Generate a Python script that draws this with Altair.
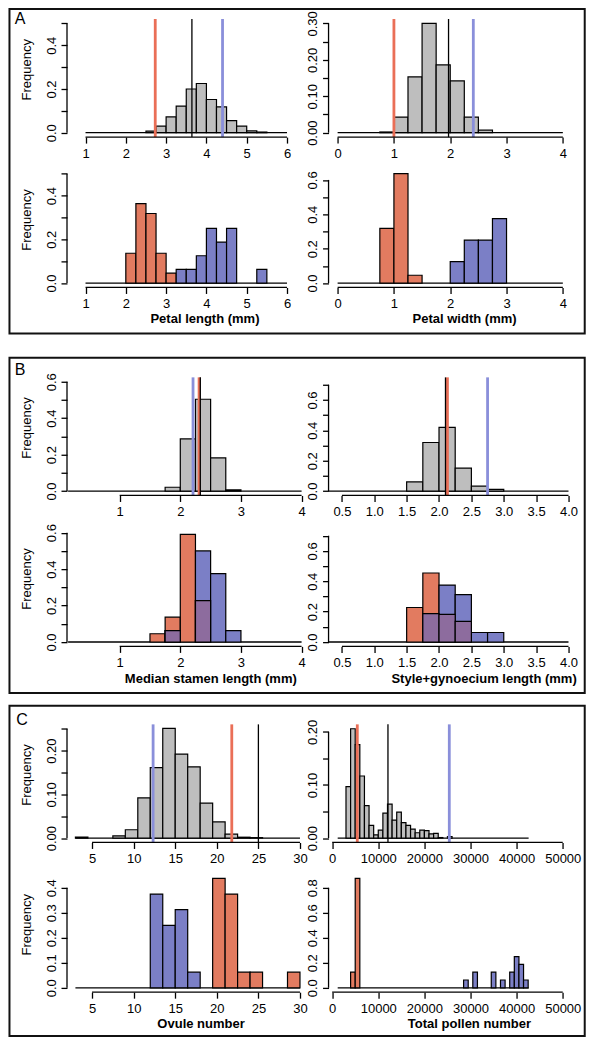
import altair as alt
import pandas as pd

# ===================== values =====================
# ---- Panel A ----
pl_all_edges = [2.5, 2.75, 3.0, 3.25, 3.5, 3.75, 4.0, 4.25, 4.5, 4.75, 5.0, 5.25, 5.5]
pl_all_freq = [0.007, 0.030, 0.072, 0.122, 0.200, 0.225, 0.152, 0.118, 0.055, 0.030, 0.008, 0.003]
pl_lines = [2.73, 3.64, 4.40]          # red, black, blue
pw_all_edges = [0.75, 1.0, 1.25, 1.5, 1.75, 2.0, 2.25, 2.5, 2.75]
pw_all_freq = [0.002, 0.043, 0.153, 0.300, 0.186, 0.142, 0.043, 0.007]
pw_lines = [1.00, 1.97, 2.41]
pl_red_edges = [2.0, 2.25, 2.5, 2.75, 3.0, 3.25]
pl_red_counts = [3, 8, 7, 3, 1]
pl_blue_edges = [3.25, 3.5, 3.75, 4.0, 4.25, 4.5, 4.75, 5.0, 5.25, 5.5]
pl_blue_counts = [1, 1, 2, 4, 3, 4, 0, 0, 1]
pw_red_edges = [0.75, 1.0, 1.25, 1.5]
pw_red_counts = [7, 14, 1]
pw_blue_edges = [2.0, 2.25, 2.5, 2.75, 3.0]
pw_blue_counts = [2, 4, 4, 6]
# ---- Panel B ----
st_all_edges = [1.75, 2.0, 2.25, 2.5, 2.75, 3.0]
st_all_freq = [0.021, 0.286, 0.504, 0.182, 0.007]
st_lines = [2.31, 2.33, 2.21]
sg_all_edges = [1.5, 1.75, 2.0, 2.25, 2.5, 2.75, 3.0]
sg_all_freq = [0.060, 0.320, 0.420, 0.151, 0.032, 0.011]
sg_lines = [2.13, 2.10, 2.75]
st_red_edges = [1.5, 1.75, 2.0, 2.25, 2.5]
st_red_counts = [1, 3, 13, 5]
st_blue_edges = [1.75, 2.0, 2.25, 2.5, 2.75, 3.0]
st_blue_counts = [1, 0, 8, 6, 1]
sg_red_edges = [1.5, 1.75, 2.0, 2.25, 2.5]
sg_red_counts = [5, 10, 4, 3]
sg_blue_edges = [1.75, 2.0, 2.25, 2.5, 2.75, 3.0]
sg_blue_counts = [3, 6, 5, 1, 1]
# ---- Panel C ----
ov_all_edges = [3, 4.5, 6, 7.5, 9, 10.5, 12, 13.5, 15, 16.5, 18, 19.5, 21, 22.5, 24, 25.5]
ov_all_freq = [0.002, 0.0, 0.0, 0.005, 0.019, 0.092, 0.161, 0.251, 0.192, 0.163, 0.080, 0.037, 0.009, 0.002, 0.001]
ov_lines = [21.8, 25.0, 12.34]
po_all_edges = [3000, 4000, 5000, 6000, 7000, 8000, 9000, 10000, 11000, 12000, 13000, 14000,
                15000, 16000, 17000, 18000, 19000, 20000, 21000, 22000, 23000, 24000, 25000, 26000]
po_all_freq = [0.097, 0.206, 0.176, 0.117, 0.061, 0.024, 0.006, 0.015, 0.047, 0.064, 0.034, 0.049,
               0.029, 0.024, 0.017, 0.010, 0.015, 0.014, 0.008, 0.009, 0.001, 0.0, 0.003]
po_lines = [5450, 12100, 25400]
ov_red_edges = [19.5, 21, 22.5, 24, 25.5, 27, 28.5, 30]
ov_red_counts = [7, 6, 1, 1, 0, 0, 1]
ov_blue_edges = [12, 13.5, 15, 16.5, 18]
ov_blue_counts = [6, 4, 5, 1]
po_red_edges = [4000, 5000, 6000]
po_red_counts = [2, 14]
po_blue_edges = [28500, 29500, 30500, 31500, 32500, 33500, 34500, 35500, 36500, 37500,
                 38500, 39500, 40500, 41500, 42500]
po_blue_counts = [1, 0, 2, 0, 0, 0, 2, 0, 1, 0, 2, 4, 3, 1]

# tick values / labels
ticks_1_6 = [1, 2, 3, 4, 5, 6]
ticks_0_4 = [0, 1, 2, 3, 4]
ticks_1_4 = [1, 2, 3, 4]
ticks_05_4 = [0.5, 1.0, 1.5, 2.0, 2.5, 3.0, 3.5, 4.0]
ticks_5_30 = [5, 10, 15, 20, 25, 30]
ticks_pollen = [0, 10000, 20000, 30000, 40000, 50000]
y_05 = [0.0, 0.1, 0.2, 0.3, 0.4, 0.5]
y_05_lab = ["0.0", "", "0.2", "", "0.4", ""]
y_030 = [0.0, 0.05, 0.10, 0.15, 0.20, 0.25, 0.30]
y_030_lab = ["0.00", "", "0.10", "", "0.20", "", "0.30"]
y_06 = [0.0, 0.1, 0.2, 0.3, 0.4, 0.5, 0.6]
y_06_lab = ["0.0", "", "0.2", "", "0.4", "", "0.6"]
y_07 = [0.0, 0.1, 0.2, 0.3, 0.4, 0.5, 0.6, 0.7]
y_07_lab = ["0.0", "", "0.2", "", "0.4", "", "0.6", ""]
y_025 = [0.0, 0.05, 0.10, 0.15, 0.20, 0.25]
y_025_lab = ["0.00", "", "0.10", "", "0.20", ""]
y_020 = [0.0, 0.05, 0.10, 0.15, 0.20]
y_020_lab = ["0.00", "", "0.10", "", "0.20"]
y_04 = [0.0, 0.1, 0.2, 0.3, 0.4]
y_04_lab = ["0.0", "0.1", "0.2", "0.3", "0.4"]
y_08 = [0.0, 0.2, 0.4, 0.6, 0.8]
y_08_lab = ["0.0", "0.2", "0.4", "0.6", "0.8"]

# ===================== style / layout =====================
FONT = "Liberation Sans"
GREY, RED, BLUE, PURPLE = "#BEBEBE", "#E27B60", "#7B7FC6", "#8D6C9E"
RED_LINE, BLUE_LINE = "#EA6F57", "#8A8FDA"
SX, SY = 0.975, 0.98
PLOT_W = 250.0
COL_L = [61.0, 329.0]
H_USR = 120.5
ROW_BOTTOM = [132.7, 285.2, 496.5, 650.2, 849.5, 1002.2]
ROW_GAP = 31.0
ROW_TOP = [12.2] + [b + ROW_GAP for b in ROW_BOTTOM[:-1]]


def label_expr(ticks, labels):
    step = min(abs(b - a) for a, b in zip(ticks, ticks[1:]))
    tol = step / 1000.0
    expr = "''"
    for t, l in reversed(list(zip(ticks, labels))):
        expr = f"abs(datum.value - ({t})) < {tol} ? '{l}' : {expr}"
    return expr


def bar_rows(edges, freqs, color):
    return [{"x": a, "x2": b, "y": 0.0, "y2": f, "c": color}
            for a, b, f in zip(edges[:-1], edges[1:], freqs) if f > 0]


def overlap_rows(re, rf, be, bf):
    blue = {round(a, 6): f for a, f in zip(be[:-1], bf)}
    rows = []
    for a, b, f in zip(re[:-1], re[1:], rf):
        g = blue.get(round(a, 6), 0)
        if f > 0 and g > 0:
            rows.append({"x": a, "x2": b, "y": 0.0, "y2": min(f, g), "c": PURPLE})
    return rows


def cell(row, col, bars, lines, ymax, xref, baseline, xticks, xlabels, yticks, ylabels,
         xtitle=None, ytitle=False, border=None, letter=None):
    L = COL_L[col]
    v0, p0, ppu = xref
    xdom = [v0 + (L - p0) / ppu, v0 + (L + PLOT_W - p0) / ppu]
    vh = (ROW_BOTTOM[row] - ROW_TOP[row]) * SY
    ppu_y = H_USR * SY / (1.08 * ymax)
    ybot = -0.04 * ymax
    ydom = [ybot, ybot + vh / ppu_y]
    ytop = 1.04 * ymax
    top_off = (ROW_BOTTOM[row] - H_USR - ROW_TOP[row]) * SY

    xa = dict(values=xticks, labelExpr=label_expr(xticks, xlabels), domain=False, grid=False,
              ticks=True, tickSize=6, tickWidth=1.3, tickColor="black",
              labelFont=FONT, labelFontSize=13, labelColor="black", labelPadding=4,
              labelFlush=False, labelOverlap=False, labelBound=False, title="")
    if xtitle:
        text, cx, cy = xtitle
        xa.update(title=text, titleFont=FONT, titleFontSize=13, titleFontWeight="bold",
                  titleColor="black", titleX=(cx - L) * SX, titleY=(cy - ROW_BOTTOM[row]) * SY,
                  titleAlign="center", titleBaseline="middle")
    ya = dict(values=yticks, labelExpr=label_expr(yticks, ylabels), domain=False, grid=False,
              ticks=True, tickSize=6, tickWidth=1.3, tickColor="black",
              labelFont=FONT, labelFontSize=13, labelColor="black", labelPadding=3,
              labelAngle=270, labelAlign="center", labelBaseline="bottom",
              labelFlush=False, labelOverlap=False, labelBound=False, title="")
    if ytitle:
        ya.update(title="Frequency", titleFont=FONT, titleFontSize=13, titleFontWeight="normal",
                  titleColor="black", titleAngle=270, titleX=-42 * SX,
                  titleY=top_off + (H_USR / 2 - 9) * SY, titleAlign="center", titleBaseline="middle")

    xs = alt.Scale(domain=xdom, nice=False, zero=False)
    ys = alt.Scale(domain=ydom, nice=False, zero=False)

    def X():
        return alt.X("x:Q", scale=xs, axis=alt.Axis(**xa))

    def Y():
        return alt.Y("y:Q", scale=ys, axis=alt.Axis(**ya))

    layers = []
    base = pd.DataFrame({"x": [baseline[0]], "x2": [baseline[1]], "y": [0.0]})
    layers.append(alt.Chart(base).mark_rule(color="black", strokeWidth=1.3)
                  .encode(x=X(), x2="x2:Q", y=Y()))
    layers.append(alt.Chart(pd.DataFrame(bars)).mark_rect(stroke="black", strokeWidth=1.2)
                  .encode(x=X(), x2="x2:Q", y=Y(), y2="y2:Q", fill=alt.Fill("c:N", scale=None)))
    if lines:
        r, k, b = lines
        vl = pd.DataFrame({"x": [r, b, k], "y": [ybot] * 3, "y2": [ytop] * 3,
                           "c": [RED_LINE, BLUE_LINE, "black"], "w": [2.8, 2.8, 1.3]})
        layers.append(alt.Chart(vl).mark_rule()
                      .encode(x=X(), y=Y(), y2="y2:Q", color=alt.Color("c:N", scale=None),
                              strokeWidth=alt.StrokeWidth("w:Q", scale=None)))
    ax = pd.DataFrame({"x": [xticks[0], xdom[0]], "x2": [xticks[-1], xdom[0]],
                       "y": [ybot, yticks[0]], "y2": [ybot, yticks[-1]]})
    layers.append(alt.Chart(ax).mark_rule(color="black", strokeWidth=1.3)
                  .encode(x=X(), x2="x2:Q", y=Y(), y2="y2:Q"))
    one = pd.DataFrame({"d": [0]})
    if border:
        y0, y1 = border
        layers.append(alt.Chart(one).mark_rect(fillOpacity=0, stroke="#111111", strokeWidth=2)
                      .encode(x=alt.value((2 - L) * SX), x2=alt.value((592 - L) * SX),
                              y=alt.value((y0 - ROW_TOP[row]) * SY), y2=alt.value((y1 - ROW_TOP[row]) * SY)))
    if letter:
        t, lx, ly = letter
        layers.append(alt.Chart(one).mark_text(text=t, font=FONT, fontSize=16, color="black",
                                               align="center", baseline="middle")
                      .encode(x=alt.value((lx - L) * SX), y=alt.value((ly - ROW_TOP[row]) * SY)))
    return alt.layer(*layers).properties(width=PLOT_W * SX, height=vh)


def freqs(counts, n):
    return [c / n for c in counts]


def lab(ticks, fmt):
    return [format(t, fmt) for t in ticks]


XA_L = (1, 80.0, 41.33)
XA_R = (0, 338.3, 57.75)
XB_L = (1, 115.0, 62.2)
XB_R = (0.5, 342.7, 66.4)
XC_L = (5, 86.7, 8.53)
XC_R = (0, 332.7, 0.00473)

cells = [
    cell(0, 0, bar_rows(pl_all_edges, pl_all_freq, GREY), pl_lines, 0.5, XA_L, (1, 6),
         ticks_1_6, lab(ticks_1_6, "d"), y_05, y_05_lab, ytitle=True,
         border=(2, 333), letter=("A", 13, 12)),
    cell(0, 1, bar_rows(pw_all_edges, pw_all_freq, GREY), pw_lines, 0.3, XA_R, (0, 4),
         ticks_0_4, lab(ticks_0_4, "d"), y_030, y_030_lab),
    cell(1, 0, bar_rows(pl_red_edges, freqs(pl_red_counts, 22), RED)
         + bar_rows(pl_blue_edges, freqs(pl_blue_counts, 16), BLUE), None, 0.5, XA_L, (1, 6),
         ticks_1_6, lab(ticks_1_6, "d"), y_05, y_05_lab, ytitle=True,
         xtitle=("Petal length (mm)", 202, 316.7)),
    cell(1, 1, bar_rows(pw_red_edges, freqs(pw_red_counts, 22), RED)
         + bar_rows(pw_blue_edges, freqs(pw_blue_counts, 16), BLUE), None, 0.636, XA_R, (0, 4),
         ticks_0_4, lab(ticks_0_4, "d"), y_06, y_06_lab,
         xtitle=("Petal width (mm)", 468, 316.7)),
    cell(2, 0, bar_rows(st_all_edges, st_all_freq, GREY), st_lines, 0.6, XB_L, (0.15, 4),
         ticks_1_4, lab(ticks_1_4, "d"), y_06, y_06_lab, ytitle=True,
         border=(356, 698), letter=("B", 13, 368)),
    cell(2, 1, bar_rows(sg_all_edges, sg_all_freq, GREY), sg_lines, 0.72, XB_R, (0.3, 4),
         ticks_05_4, lab(ticks_05_4, ".1f"), y_07, y_07_lab),
    cell(3, 0, bar_rows(st_red_edges, freqs(st_red_counts, 22), RED)
         + bar_rows(st_blue_edges, freqs(st_blue_counts, 16), BLUE)
         + overlap_rows(st_red_edges, freqs(st_red_counts, 22), st_blue_edges, freqs(st_blue_counts, 16)),
         None, 0.6, XB_L, (0.15, 4), ticks_1_4, lab(ticks_1_4, "d"), y_06, y_06_lab, ytitle=True,
         xtitle=("Median stamen length (mm)", 208, 683)),
    cell(3, 1, bar_rows(sg_red_edges, freqs(sg_red_counts, 22), RED)
         + bar_rows(sg_blue_edges, freqs(sg_blue_counts, 16), BLUE)
         + overlap_rows(sg_red_edges, freqs(sg_red_counts, 22), sg_blue_edges, freqs(sg_blue_counts, 16)),
         None, 0.72, XB_R, (0.3, 4), ticks_05_4, lab(ticks_05_4, ".1f"), y_07, y_07_lab,
         xtitle=("Style+gynoecium length (mm)", 488, 683)),
    cell(4, 0, bar_rows(ov_all_edges, ov_all_freq, GREY), ov_lines, 0.25, XC_L, (3, 30),
         ticks_5_30, lab(ticks_5_30, "d"), y_025, y_025_lab, ytitle=True,
         border=(710, 1047), letter=("C", 15, 725)),
    cell(4, 1, bar_rows(po_all_edges, po_all_freq, GREY), po_lines, 0.206, XC_R, (1200, 42600),
         ticks_pollen, lab(ticks_pollen, "d"), y_020, y_020_lab),
    cell(5, 0, bar_rows(ov_blue_edges, freqs(ov_blue_counts, 16), BLUE)
         + bar_rows(ov_red_edges, freqs(ov_red_counts, 16), RED), None, 0.4375, XC_L, (3, 30),
         ticks_5_30, lab(ticks_5_30, "d"), y_04, y_04_lab, ytitle=True,
         xtitle=("Ovule number", 198, 1034)),
    cell(5, 1, bar_rows(po_red_edges, freqs(po_red_counts, 16), RED)
         + bar_rows(po_blue_edges, freqs(po_blue_counts, 16), BLUE), None, 0.875, XC_R, (1200, 42600),
         ticks_pollen, lab(ticks_pollen, "d"), y_08, y_08_lab,
         xtitle=("Total pollen number", 473, 1034)),
]

chart = (
    alt.concat(
        *cells, columns=2, align="each", bounds="flush",
        spacing={"row": ROW_GAP * SY, "column": (COL_L[1] - COL_L[0] - PLOT_W) * SX},
    )
    .properties(padding=0)
    .configure(font=FONT)
    .configure_view(strokeWidth=0, stroke="transparent")
)

chart.save("out.html", embed_options={"renderer": "svg", "actions": False})
